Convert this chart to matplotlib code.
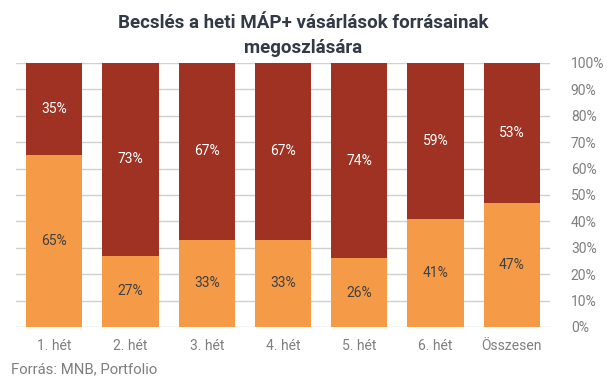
import matplotlib
matplotlib.use("Agg")
import matplotlib.pyplot as plt
import numpy as np

categories = ["1. hét", "2. hét", "3. hét", "4. hét", "5. hét", "6. hét", "Összesen"]
bottom_vals = [65, 27, 33, 33, 26, 41, 47]
top_vals = [35, 73, 67, 67, 74, 59, 53]

ORANGE = "#F59B47"
RED = "#A03223"

plt.rcParams["font.family"] = ["Roboto", "DejaVu Sans"]

fig = plt.figure(figsize=(6.07, 3.80), dpi=100)
ax = fig.add_axes([16/607, 1-327/380, (550-16)/607, (327-63)/380])

x = np.arange(len(categories))
w = 0.737
ax.bar(x, bottom_vals, width=w, color=ORANGE, zorder=2)
ax.bar(x, top_vals, width=w, bottom=bottom_vals, color=RED, zorder=2)

for xi, b, t in zip(x, bottom_vals, top_vals):
    ax.text(xi, b/2, f"{b}%", ha="center", va="center", fontsize=10, color="#404040", zorder=3)
    ax.text(xi, b + t/2, f"{t}%", ha="center", va="center", fontsize=10, color="white", zorder=3)

ax.set_xlim(-0.5, len(categories) - 0.5)
ax.set_ylim(0, 100)
ax.set_yticks(np.arange(0, 101, 10))
ax.yaxis.set_ticks_position("right")
ax.set_yticklabels([f"{v}%" for v in range(0, 101, 10)])
ax.grid(axis="y", color="#d0d0d0", linewidth=1, zorder=0)
ax.set_xticks(x)
ax.set_xticklabels(categories)
ax.tick_params(axis="both", length=0, labelsize=10, labelcolor="#7f7f7f")
ax.tick_params(axis="y", pad=15)
ax.tick_params(axis="x", pad=9)
for s in ax.spines.values():
    s.set_visible(False)

fig.text(303/607, 1-23/380, "Becslés a heti MÁP+ vásárlások forrásainak", ha="center", va="center",
         fontsize=13.5, fontweight="bold", color="#333a45")
fig.text(303/607, 1-48/380, "megoszlására", ha="center", va="center",
         fontsize=13.5, fontweight="bold", color="#333a45")
fig.text(11/607, 1-369/380, "Forrás: MNB, Portfolio", ha="left", va="center",
         fontsize=10.7, color="#7f7f7f")

fig.savefig("out.png", dpi=100)
